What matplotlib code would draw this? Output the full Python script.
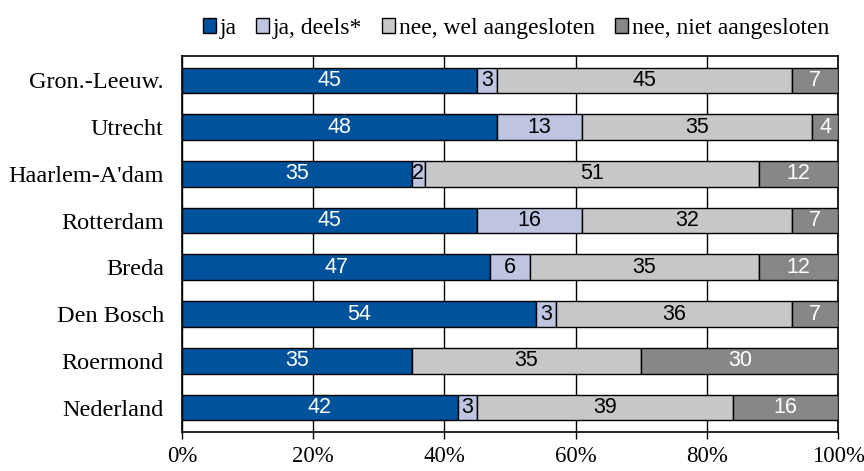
import matplotlib.pyplot as plt
import numpy as np

regions = ["Gron.-Leeuw.", "Utrecht", "Haarlem-A'dam", "Rotterdam",
           "Breda", "Den Bosch", "Roermond", "Nederland"]
ja = [45, 48, 35, 45, 47, 54, 35, 42]
ja_deels = [3, 13, 2, 16, 6, 3, 0, 3]
nee_wel = [45, 35, 51, 32, 35, 36, 35, 39]
nee_niet = [7, 4, 12, 7, 12, 7, 30, 16]

series = [
    ("ja", ja, "#00529B", "white"),
    ("ja, deels*", ja_deels, "#BDC5E1", "black"),
    ("nee, wel aangesloten", nee_wel, "#C6C7C9", "black"),
    ("nee, niet aangesloten", nee_niet, "#878787", "white"),
]

fig = plt.figure(figsize=(8.64, 4.71), dpi=100)
ax = fig.add_axes([0.2106, 0.083, 0.7595, 0.798])

y = np.arange(len(regions))
left = np.zeros(len(regions))
for name, vals, col, tcol in series:
    vals = np.array(vals, dtype=float)
    ax.barh(y, vals, left=left, height=0.55, color=col, edgecolor="black",
            linewidth=1, label=name, zorder=3)
    for yi, (l, v) in enumerate(zip(left, vals)):
        if v > 0:
            ax.text(l + v / 2, yi, "%d" % v, ha="center", va="center",
                    color=tcol, fontsize=15.5, family="Liberation Sans", zorder=4)
    left += vals

ax.set_xlim(0, 100)
ax.set_ylim(7.52, -0.52)
ax.set_yticks(y)
ax.set_yticklabels(regions, family="Liberation Serif", fontsize=17.5)
ax.tick_params(axis="y", length=0, pad=13)
ax.set_xticks(np.arange(0, 101, 20))
ax.set_xticklabels(["%d%%" % v for v in range(0, 101, 20)],
                   family="Liberation Serif", fontsize=16.5)
ax.tick_params(axis="x", direction="out", length=5, width=1, pad=5)
ax.xaxis.grid(True, color="black", linewidth=1, zorder=0)
for s in ax.spines.values():
    s.set_linewidth(1.2)

leg = fig.legend(loc="center", bbox_to_anchor=(0.597, 0.94), ncol=4,
                 frameon=False, prop={"family": "Liberation Serif", "size": 17},
                 handlelength=0.55, handleheight=0.55, handletextpad=0.15,
                 columnspacing=0.85, borderpad=0)

fig.savefig("out.png", dpi=100)
